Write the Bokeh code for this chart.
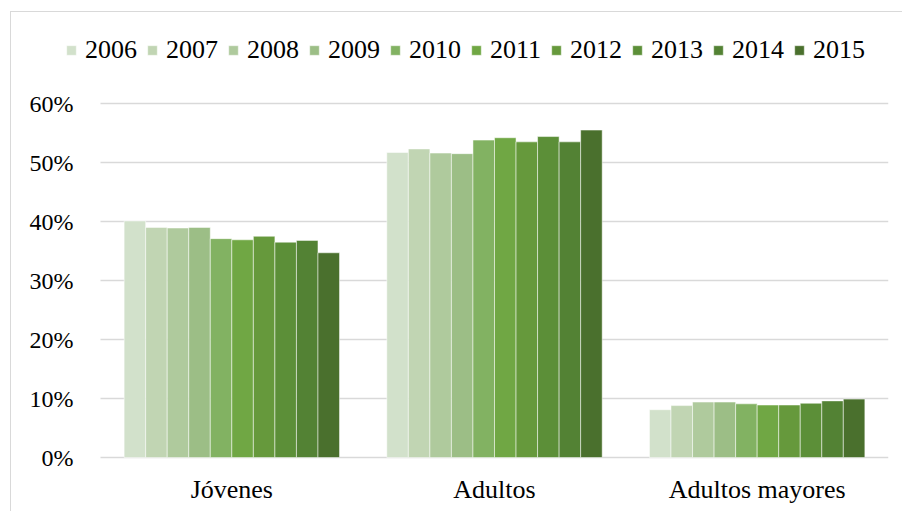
from bokeh.plotting import figure
from bokeh.models import (Legend, LegendItem, FixedTicker, NumeralTickFormatter,
                          Range1d, ColumnDataSource)
from bokeh.transform import dodge
from bokeh.embed import file_html
from bokeh.resources import INLINE

categories = ["Jóvenes", "Adultos", "Adultos mayores"]
years = ["2006", "2007", "2008", "2009", "2010", "2011", "2012", "2013", "2014", "2015"]
values = {
    "2006": [0.401, 0.517, 0.081],
    "2007": [0.390, 0.523, 0.088],
    "2008": [0.389, 0.516, 0.094],
    "2009": [0.390, 0.515, 0.094],
    "2010": [0.371, 0.538, 0.091],
    "2011": [0.369, 0.542, 0.089],
    "2012": [0.375, 0.535, 0.089],
    "2013": [0.365, 0.544, 0.092],
    "2014": [0.368, 0.535, 0.096],
    "2015": [0.347, 0.555, 0.099],
}
colors = ["#d2e1cb", "#c1d5b3", "#afca9d", "#9cbe86", "#82b262", "#70a744",
          "#66993c", "#5c8f38", "#538234", "#4a702d"]
y_ticks = [0, 0.1, 0.2, 0.3, 0.4, 0.5, 0.6]

FONT = "'Liberation Serif', 'Times New Roman', serif"

ncat = len(categories)
xpos = [i + 0.5 for i in range(ncat)]

p = figure(width=892, height=500, output_backend="svg",
           toolbar_location=None, min_border_left=0, min_border_right=15,
           min_border_top=8, min_border_bottom=43, margin=(11, 0, 0, 10))
p.styles = {"border-top": "1px solid #d9d9d9", "border-left": "1px solid #d9d9d9"}
p.x_range = Range1d(-0.3388, ncat)
p.y_range = Range1d(-0.0203, 0.7407)
p.outline_line_color = None
p.background_fill_color = "white"
p.border_fill_color = "white"

data = {"x": xpos, "cat": categories}
for y in years:
    data[y] = values[y]
source = ColumnDataSource(data)

bw = 0.082
items = []
for i, y in enumerate(years):
    r = p.vbar(x=dodge("x", (i - 4.5) * bw), top=y, bottom=0, width=bw,
               source=source, fill_color=colors[i], line_color="white", line_alpha=0.5,
               line_width=1)
    items.append(LegendItem(label=y, renderers=[r]))

legend = Legend(items=items, orientation="horizontal", location=(54, 404),
                padding=0, margin=0, spacing=9, label_standoff=8,
                glyph_width=12, glyph_height=12, border_line_color=None,
                background_fill_alpha=0,
                label_text_font=FONT, label_text_font_size="26px",
                label_text_color="black")
p.add_layout(legend, "center")

p.yaxis.fixed_location = 0
p.yaxis.ticker = FixedTicker(ticks=y_ticks)
p.yaxis.formatter = NumeralTickFormatter(format="0%")
p.yaxis.axis_line_color = None
p.yaxis.major_tick_line_color = None
p.yaxis.minor_tick_line_color = None
p.yaxis.major_tick_out = 0
p.yaxis.major_label_standoff = 27
p.yaxis.major_label_text_font = FONT
p.yaxis.major_label_text_font_size = "24px"
p.yaxis.major_label_text_color = "black"

p.xaxis.ticker = FixedTicker(ticks=xpos)
p.xaxis.major_label_overrides = {x: c for x, c in zip(xpos, categories)}
p.xaxis.axis_line_color = None
p.xaxis.major_tick_line_color = None
p.xaxis.minor_tick_line_color = None
p.xaxis.major_tick_out = 0
p.xaxis.major_label_standoff = 5
p.xaxis.major_label_text_font = FONT
p.xaxis.major_label_text_font_size = "26px"
p.xaxis.major_label_text_color = "black"

p.xgrid.grid_line_color = None
p.ygrid.ticker = FixedTicker(ticks=y_ticks)
p.ygrid.cross_bounds = (0, ncat)
p.ygrid.grid_line_color = "#d9d9d9"
p.ygrid.grid_line_width = 1.3

open("out.html", "w").write(file_html(p, INLINE))
